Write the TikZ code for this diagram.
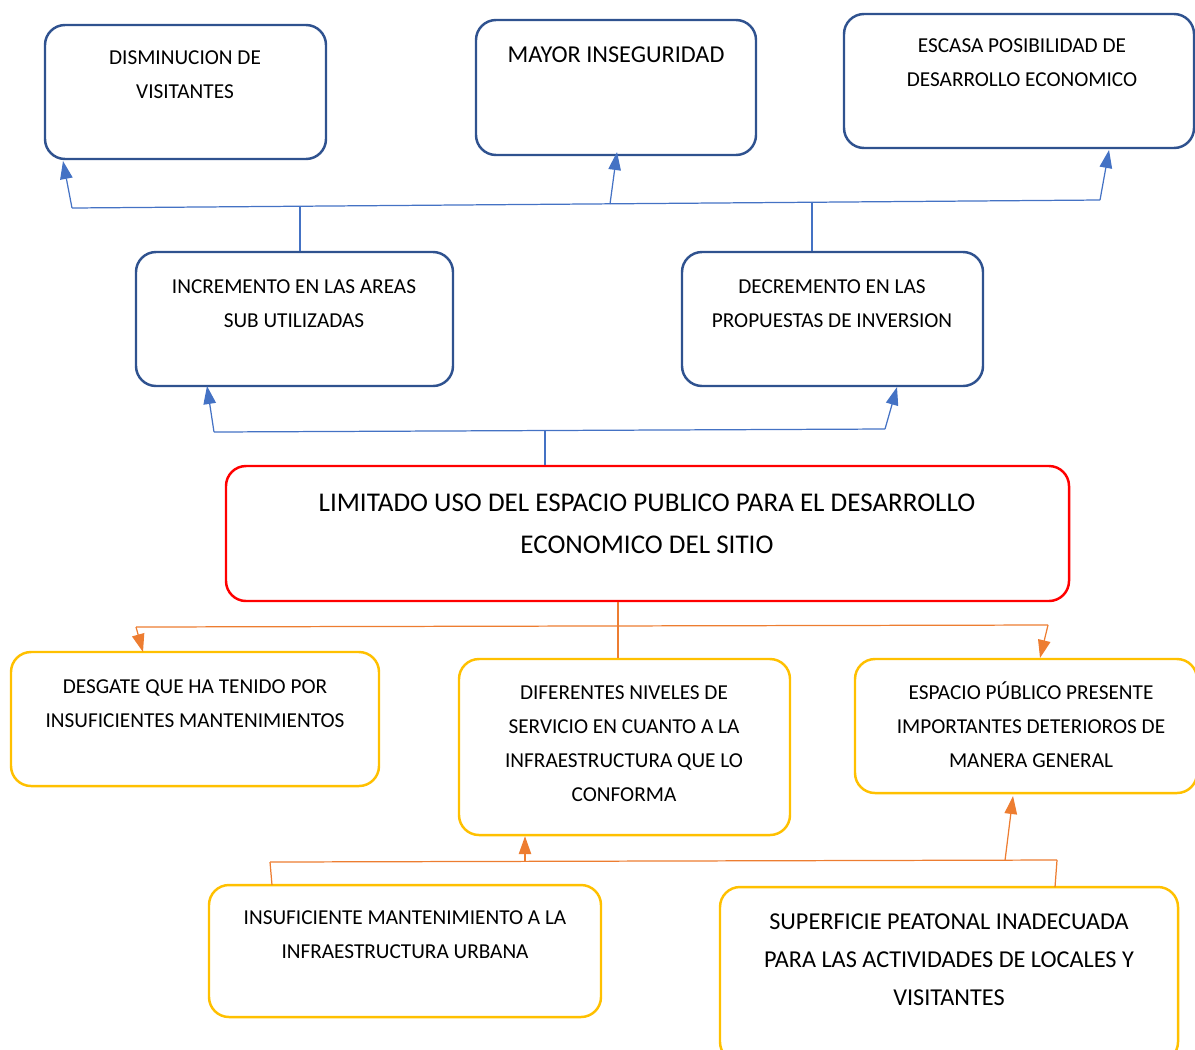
\documentclass[tikz,border=0pt]{standalone}
\usepackage{fontspec}
\setmainfont{Carlito}
\usetikzlibrary{arrows.meta,fit}
\definecolor{boxblue}{HTML}{2F528F}
\definecolor{lineblue}{HTML}{4472C4}
\definecolor{boxred}{HTML}{FF0000}
\definecolor{boxyellow}{HTML}{FFC000}
\definecolor{lineorange}{HTML}{ED7D31}
\begin{document}
\begin{tikzpicture}[x=0.02cm,y=-0.02cm,
  box/.style={draw, rounded corners=0.4cm, line width=1.4pt, inner sep=0pt},
  bbox/.style={box, draw=boxblue},
  rbox/.style={box, draw=boxred},
  ybox/.style={box, draw=boxyellow},
  txt/.style={align=center, inner sep=0pt, font=\fontsize{12.1}{19.4}\selectfont},
  bline/.style={draw=lineblue, line width=0.7pt},
  oline/.style={draw=lineorange, line width=0.7pt},
  tip/.style={-{Triangle[length=0.36cm,width=0.25cm]}}
]
\useasboundingbox (0,0) rectangle (1195,1049);

% boxes
\node[bbox, fit={(45,25) (326,159)}] (b1) {};
\node[bbox, fit={(476,20) (756,155)}] (b2) {};
\node[bbox, fit={(844,14) (1194,148)}] (b3) {};
\node[bbox, fit={(136,252) (453,386)}] (b4) {};
\node[bbox, fit={(682,252) (983,386)}] (b5) {};
\node[rbox, fit={(226,466) (1069,601)}] (b6) {};
\node[ybox, fit={(11,652) (379,786)}] (b7) {};
\node[ybox, fit={(459,659) (790,835)}] (b8) {};
\node[ybox, fit={(855,659) (1197,793)}] (b9) {};
\node[ybox, fit={(209,885) (601,1017)}] (b10) {};
\node[ybox, fit={(720,887) (1178,1062)}] (b11) {};

% texts
\node[txt] (t1) at (185,74.5) {DISMINUCION DE\\VISITANTES};
\node[txt, font=\fontsize{13.8}{20}\selectfont] (t2) at (616,55) {MAYOR INSEGURIDAD};
\node[txt] (t3) at (1022,62.5) {ESCASA POSIBILIDAD DE\\DESARROLLO ECONOMICO};
\node[txt] (t4) at (294,304) {INCREMENTO EN LAS AREAS\\SUB UTILIZADAS};
\node[txt] (t5) at (832,304) {DECREMENTO EN LAS\\PROPUESTAS DE INVERSION};
\node[txt, font=\fontsize{15.4}{23.9}\selectfont] (t6) at (647,524) {LIMITADO USO DEL ESPACIO PUBLICO PARA EL DESARROLLO\\ECONOMICO DEL SITIO};
\node[txt] (t7) at (195,703.5) {DESGATE QUE HA TENIDO POR\\INSUFICIENTES MANTENIMIENTOS};
\node[txt] (t8) at (624,744) {DIFERENTES NIVELES DE\\SERVICIO EN CUANTO A LA\\INFRAESTRUCTURA QUE LO\\CONFORMA};
\node[txt] (t9) at (1031,725) {ESPACIO PÚBLICO PRESENTE\\IMPORTANTES DETERIOROS DE\\MANERA GENERAL};
\node[txt] (t10) at (405,935) {INSUFICIENTE MANTENIMIENTO A LA\\INFRAESTRUCTURA URBANA};
\node[txt, font=\fontsize{13.8}{21.6}\selectfont] (t11) at (949,960) {SUPERFICIE PEATONAL INADECUADA\\PARA LAS ACTIVIDADES DE LOCALES Y\\VISITANTES};

% top bus (blue)
\coordinate (ta) at (72,208);
\coordinate (tb) at (1100,200);
\coordinate (tm) at (610,204);
\coordinate (s4) at (300,206.5);
\coordinate (s5) at (812,202.5);
\draw[bline] (ta) -- (tb);
\draw[bline] (b4.north -| s4) -- (s4);
\draw[bline] (b5.north -| s5) -- (s5);
\coordinate (a1) at (63,161);
\coordinate (a2) at (617,152);
\coordinate (a3) at (1109,150);
\draw[bline, tip] (ta) -- (a1);
\draw[bline, tip] (tm) -- (a2);
\draw[bline, tip] (tb) -- (a3);

% second bus (blue)
\coordinate (ma) at (214,432);
\coordinate (mb) at (885,429);
\coordinate (s6) at (545,430.5);
\draw[bline] (ma) -- (mb);
\draw[bline] (b6.north -| s6) -- (s6);
\coordinate (a4) at (207,386);
\coordinate (a5) at (897,387);
\draw[bline, tip] (ma) -- (a4);
\draw[bline, tip] (mb) -- (a5);

% third bus (orange)
\coordinate (la) at (136,627);
\coordinate (lb) at (1048,625);
\coordinate (s8) at (618,626);
\draw[oline] (la) -- (lb);
\draw[oline] (b6.south -| s8) -- (b8.north -| s8);
\coordinate (a7) at (143,652);
\coordinate (a9) at (1040,658);
\draw[oline, tip] (la) -- (a7);
\draw[oline, tip] (lb) -- (a9);

% bottom bus (orange)
\coordinate (ba) at (270,862);
\coordinate (bb) at (1057,860);
\coordinate (bm) at (525,861.5);
\coordinate (br) at (1005,860.5);
\draw[oline] (ba) -- (bb);
\draw[oline] (ba) -- (272,885) coordinate (c10);
\draw[oline] (bb) -- (1055,887) coordinate (c11);
\draw[oline, tip] (bm) -- (b8.south -| bm);
\coordinate (a9b) at (1013,796);
\draw[oline, tip] (br) -- (a9b);
\end{tikzpicture}
\end{document}
